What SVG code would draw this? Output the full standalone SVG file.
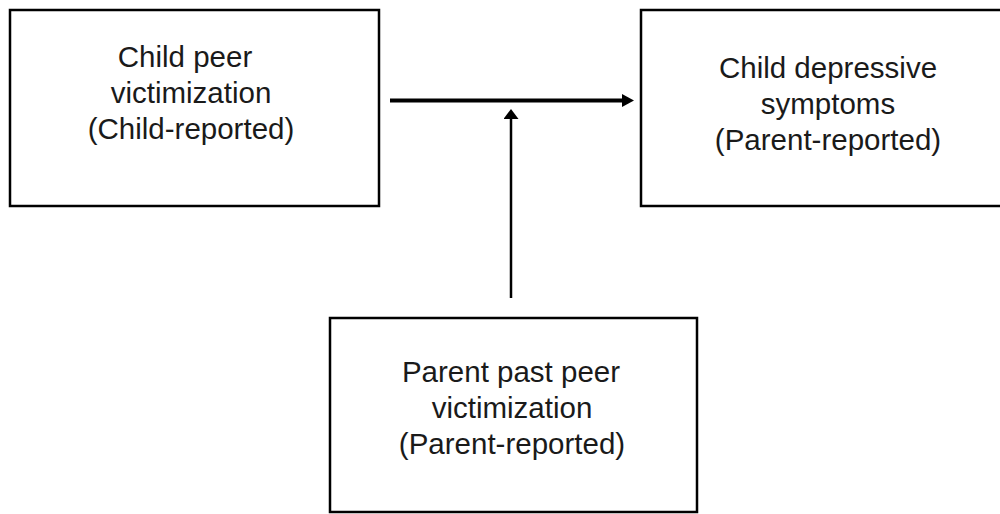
<svg xmlns="http://www.w3.org/2000/svg" width="1000" height="514" viewBox="0 0 1000 514">
  <style>
    .box { fill: #ffffff; stroke: #000000; stroke-width: 2.5; }
    .label { font-family: "Liberation Sans", Arial, sans-serif; font-size: 29.5px; fill: #1a1a1a; text-anchor: middle; }
    .conn { stroke: #000000; fill: none; }
  </style>
  <defs>
    <marker id="headMain" markerUnits="userSpaceOnUse" markerWidth="13" markerHeight="13" refX="0" refY="6.5" orient="auto">
      <path d="M0,0 L12,6.5 L0,13 Z" fill="#000000"/>
    </marker>
    <marker id="headMod" markerUnits="userSpaceOnUse" markerWidth="11" markerHeight="15" refX="0" refY="7.5" orient="auto">
      <path d="M0,0 L10,7.5 L0,15 Z" fill="#000000"/>
    </marker>
  </defs>
  <rect width="1000" height="514" fill="#ffffff"/>

  <g id="node-child-peer-victimization">
    <rect class="box" x="10" y="10" width="369" height="196"/>
    <text class="label" x="185" y="67">Child peer</text>
    <text class="label" x="191" y="103">victimization</text>
    <text class="label" x="191" y="139">(Child-reported)</text>
  </g>

  <g id="node-child-depressive-symptoms">
    <rect class="box" x="641" y="10" width="400" height="196"/>
    <text class="label" x="828" y="78">Child depressive</text>
    <text class="label" x="828" y="114">symptoms</text>
    <text class="label" x="828" y="150">(Parent-reported)</text>
  </g>

  <g id="node-parent-past-peer-victimization">
    <rect class="box" x="330" y="318" width="367" height="194"/>
    <text class="label" x="511" y="382">Parent past peer</text>
    <text class="label" x="512" y="418">victimization</text>
    <text class="label" x="512" y="454">(Parent-reported)</text>
  </g>

  <g id="connectors">
    <line class="conn" x1="390" y1="100.5" x2="622" y2="100.5" stroke-width="4" marker-end="url(#headMain)"/>
    <line class="conn" x1="511" y1="298" x2="511" y2="119" stroke-width="2.5" marker-end="url(#headMod)"/>
  </g>
</svg>
